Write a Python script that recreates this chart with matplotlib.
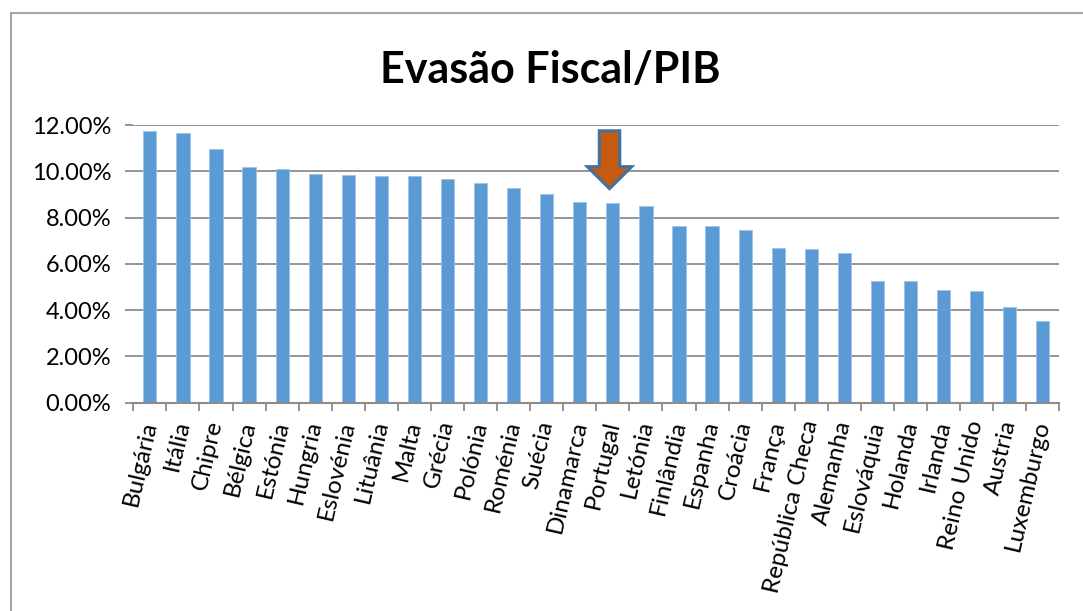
import matplotlib
matplotlib.use('Agg')
import matplotlib.pyplot as plt
from matplotlib.patches import Polygon
from matplotlib.lines import Line2D
from matplotlib.ticker import PercentFormatter, MultipleLocator
import numpy as np

# dados: evasão fiscal em % do PIB
paises = ['Bulgária', 'Itália', 'Chipre', 'Bélgica', 'Estónia', 'Hungria',
          'Eslovénia', 'Lituânia', 'Malta', 'Grécia', 'Polónia', 'Roménia',
          'Suécia', 'Dinamarca', 'Portugal', 'Letónia', 'Finlândia', 'Espanha',
          'Croácia', 'França', 'República Checa', 'Alemanha', 'Eslováquia',
          'Holanda', 'Irlanda', 'Reino Unido', 'Austria', 'Luxemburgo']
evasao = [11.75, 11.64, 10.96, 10.17, 10.08, 9.87, 9.83, 9.79, 9.78, 9.65,
          9.48, 9.26, 9.00, 8.67, 8.65, 8.50, 7.64, 7.62, 7.47, 6.67,
          6.64, 6.48, 5.27, 5.24, 4.86, 4.84, 4.15, 3.54]
destaque = 'Portugal'

plt.rcParams['font.family'] = ['Lato', 'DejaVu Sans']

cor_barra = '#5B9BD5'
cor_grelha = '#8C8C8C'

fig = plt.figure(figsize=(10.83, 6.11), dpi=100)
ax = fig.add_axes([0.1231, 0.3409, 0.9781 - 0.1231, 0.7954 - 0.3409])

x = np.arange(len(paises))
ax.bar(x, evasao, width=0.4, color=cor_barra, edgecolor='#9DC3E6', linewidth=0.6, zorder=3)

ax.set_xlim(-0.5, len(paises) - 0.5)
ax.set_ylim(0, 12)
ax.yaxis.set_major_locator(MultipleLocator(2))
ax.yaxis.set_major_formatter(PercentFormatter(decimals=2))
ax.grid(axis='y', color=cor_grelha, linewidth=1.3, zorder=0)

for s in ['top', 'right', 'left']:
    ax.spines[s].set_visible(False)
ax.spines['bottom'].set_color(cor_grelha)
ax.spines['bottom'].set_linewidth(1.5)
ax.spines['bottom'].set_zorder(4)

# rótulos do eixo x
ax.set_xticks(x)
ax.set_xticklabels(paises, rotation=77, ha='right', va='center',
                   rotation_mode='anchor', fontsize=17.5)
ax.tick_params(axis='x', which='major', length=0, pad=13)
ax.set_xticks(np.arange(-0.5, len(paises)), minor=True)
ax.tick_params(axis='x', which='minor', length=6, width=1.3, color=cor_grelha)
ax.tick_params(axis='y', length=6, width=1.3, color=cor_grelha, labelsize=17, pad=10)

# seta sobre Portugal
i = paises.index(destaque)
v = evasao[i]
xc = i - 0.1
seta = [(xc - 0.31, v + 3.1), (xc + 0.31, v + 3.1), (xc + 0.31, v + 1.55),
        (xc + 0.67, v + 1.55), (xc, v + 0.6), (xc - 0.67, v + 1.55),
        (xc - 0.31, v + 1.55)]
ax.add_patch(Polygon(seta, closed=True, facecolor='#C55A11', edgecolor='#41719C',
                     linewidth=2.2, zorder=5, clip_on=False))

fig.text(0.508, 0.885, 'Evasão Fiscal/PIB', ha='center', va='center',
         fontsize=31, fontweight='bold')

# moldura do gráfico
fig.add_artist(Line2D([0.0102, 0.0102], [0, 0.979], color='#A6A6A6', linewidth=1.5))
fig.add_artist(Line2D([0.0102, 1.0], [0.979, 0.979], color='#A6A6A6', linewidth=1.5))

fig.savefig('out.png', dpi=100)
